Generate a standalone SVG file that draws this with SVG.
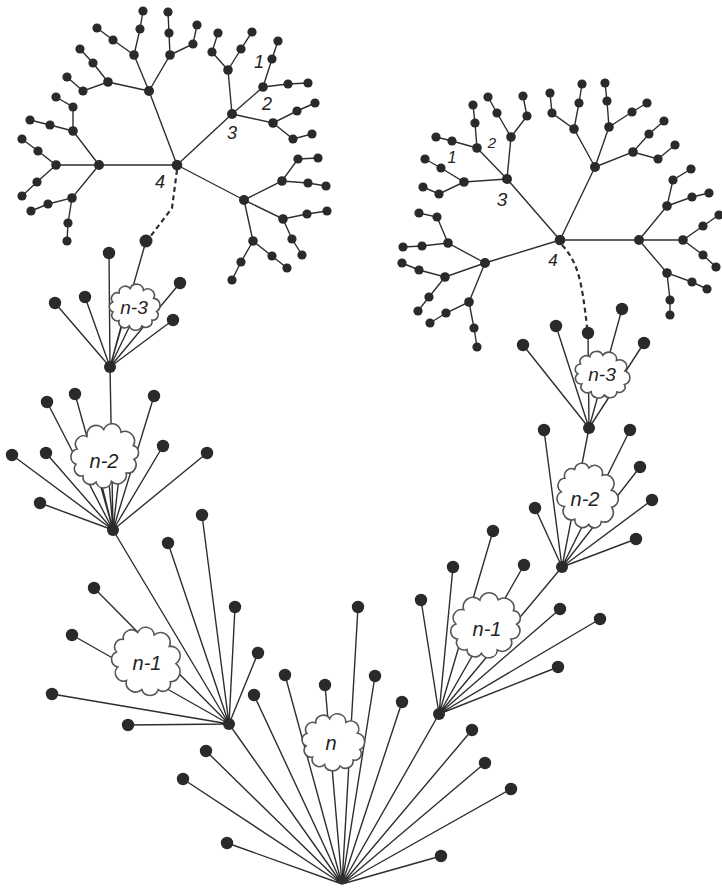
<svg xmlns="http://www.w3.org/2000/svg" xmlns:xlink="http://www.w3.org/1999/xlink" width="722" height="890" viewBox="0 0 722 890">
<style>
.e{stroke:#2e2e2e;stroke-width:1.4;fill:none;stroke-linecap:round}
.d{stroke:#2e2e2e;stroke-width:2.2;fill:none;stroke-dasharray:5 3.5}
circle{fill:#2a2a2a}
.cl{fill:#fff;stroke:#555;stroke-width:1.6}
.lab{font-family:"Liberation Sans",Arial,sans-serif;font-style:italic;fill:#222;text-anchor:middle}
</style>
<defs>
<path id="cloud" vector-effect="non-scaling-stroke" d="M44 0 A10.5 10.5 0 0 1 38.1 19 A12 12 0 0 1 20.6 33.6 A13 13 0 0 1 -3.8 37.8 A11.5 11.5 0 0 1 -25.2 31.1 A11 11 0 0 1 -39.9 16.1 A10.5 10.5 0 0 1 -43.8 -3.3 A11.5 11.5 0 0 1 -34.7 -23.4 A12 12 0 0 1 -15 -35.7 A13.5 13.5 0 0 1 11.4 -36.7 A13 13 0 0 1 33.7 -24.4 A14 14 0 0 1 44 0 Z"/>
</defs>
<rect width="722" height="890" fill="#fff"/>
<g id="connectors">
<path class="e" d="M177 165 L149 91 M177 165 L232 114 M177 165 L99 165 M177 165 L244 200"/>
<path class="e" d="M149 91 L134 55 L140 29 L143 11 M134 55 L113 40 L97 28 M149 91 L170 55 L169 33 L168 12 M170 55 L193 44 L197 25 M149 91 L108 82 L93 63 L80 49 M108 82 L83 91 L67 77"/>
<path class="e" d="M232 114 L228 70 L212 52 L218 33 M228 70 L241 49 L252 32 M232 114 L263 87 L272 59 L278 41 M263 87 L288 84 L308 83 M232 114 L273 123 L297 111 L315 103 M273 123 L293 139 L312 134"/>
<path class="e" d="M99 165 L73 131 L73 107 L56 97 M73 131 L50 125 L30 120 M99 165 L56 165 L38 151 L22 139 M56 165 L37 182 L22 196 M99 165 L72 198 L48 204 L31 211 M72 198 L68 223 L67 241"/>
<path class="e" d="M244 200 L282 181 L298 159 L318 158 M282 181 L308 183 L326 186 M244 200 L283 219 L307 214 L327 211 M283 219 L292 239 L302 255 M244 200 L253 241 L272 256 L287 268 M253 241 L241 262 L232 280"/>
<path class="d" d="M177 170 L172 208 L150 237"/>
<path class="e" d="M560 240 L507 179 M560 240 L595 167 M560 240 L639 240 M560 240 L485 263"/>
<path class="e" d="M507 179 L477 148 L475 123 L473 105 M477 148 L452 141 L436 137 M507 179 L511 137 L497 113 L488 97 M511 137 L527 116 L523 96 M507 179 L464 182 L441 168 L425 159 M464 182 L439 194 L423 187"/>
<path class="e" d="M595 167 L574 129 L552 113 L550 93 M574 129 L579 103 L582 84 M595 167 L609 127 L607 101 L605 83 M609 127 L632 112 L647 103 M595 167 L633 152 L649 134 L664 121 M633 152 L658 159 L675 145"/>
<path class="e" d="M639 240 L667 206 L673 180 L691 169 M667 206 L692 197 L709 193 M639 240 L683 240 L703 226 L719 215 M683 240 L703 255 L716 267 M639 240 L667 273 L692 282 L707 289 M667 273 L670 300 L670 315"/>
<path class="e" d="M485 263 L448 243 L437 217 L419 213 M448 243 L422 246 L403 247 M485 263 L445 277 L419 270 L402 263 M445 277 L429 297 L418 311 M485 263 L469 302 L446 313 L430 323 M469 302 L474 328 L477 347"/>
<path class="d" d="M562 245 C578 262 582 282 587 327"/>
<path class="e" d="M110 367 L146 241 M110 367 L109 253 M110 367 L55 303 M110 367 L85 297 M110 367 L180 283 M110 367 L173 320 M110 367 L125 312 M110 367 L135 315"/>
<path class="e" d="M110 367 L113 530 M113 530 L47 402 M113 530 L75 394 M113 530 L154 396 M113 530 L12 455 M113 530 L46 453 M113 530 L163 446 M113 530 L207 453 M113 530 L40 503 M113 530 L98 470 M113 530 L108 470 M113 530 L120 468"/>
<path class="e" d="M113 530 L229 724 M229 724 L168 543 M229 724 L202 515 M229 724 L235 607 M229 724 L258 653 M229 724 L94 588 M229 724 L72 635 M229 724 L52 694 M229 724 L128 725"/>
<path class="e" d="M229 724 L342 884 M439 714 L342 884 M342 884 L206 751 M342 884 L183 779 M342 884 L227 843 M342 884 L254 695 M342 884 L285 675 M342 884 L325 685 M342 884 L358 607 M342 884 L375 676 M342 884 L402 702 M342 884 L472 730 M342 884 L485 763 M342 884 L511 789 M342 884 L441 856"/>
<path class="e" d="M439 714 L562 567 M439 714 L421 600 M439 714 L453 567 M439 714 L493 531 M439 714 L524 565 M439 714 L560 609 M439 714 L600 619 M439 714 L558 667"/>
<path class="e" d="M562 567 L589 428 M562 567 L535 508 M562 567 L544 430 M562 567 L630 430 M562 567 L640 467 M562 567 L652 500 M562 567 L636 539"/>
<path class="e" d="M589 428 L523 345 M589 428 L556 326 M589 428 L588 333 M589 428 L622 309 M589 428 L644 343"/>
</g>
<g id="cloud-l-n3"><use href="#cloud" class="cl" transform="translate(134.5 307.5) scale(0.51 0.5) rotate(10)"/><text class="lab" x="134" y="314" font-size="19">n-3</text></g>
<g id="cloud-l-n2"><use href="#cloud" class="cl" transform="translate(105 456) scale(0.685 0.69) rotate(-20)"/><text class="lab" x="104" y="468" font-size="20">n-2</text></g>
<g id="cloud-l-n1"><use href="#cloud" class="cl" transform="translate(146 661.5) scale(0.72 0.72) rotate(40)"/><text class="lab" x="147" y="670" font-size="20">n-1</text></g>
<g id="cloud-n"><use href="#cloud" class="cl" transform="translate(333 742.5) scale(0.63 0.62) rotate(15)"/><text class="lab" x="331" y="750" font-size="20">n</text></g>
<g id="cloud-r-n1"><use href="#cloud" class="cl" transform="translate(486 626) scale(0.72 0.69) rotate(-30)"/><text class="lab" x="487" y="636" font-size="20">n-1</text></g>
<g id="cloud-r-n2"><use href="#cloud" class="cl" transform="translate(587 496) scale(0.65 0.67) rotate(60)"/><text class="lab" x="585" y="506" font-size="20">n-2</text></g>
<g id="cloud-r-n3"><use href="#cloud" class="cl" transform="translate(602 375) scale(0.56 0.51) rotate(25)"/><text class="lab" x="602" y="381" font-size="19">n-3</text></g>
<g id="labels">
<text class="lab" x="259" y="68" font-size="18">1</text>
<text class="lab" x="267" y="110" font-size="18">2</text>
<text class="lab" x="232" y="139" font-size="18">3</text>
<text class="lab" x="160" y="188" font-size="18">4</text>
<text class="lab" x="452" y="163" font-size="16">1</text>
<text class="lab" x="492" y="148" font-size="15">2</text>
<text class="lab" x="502" y="206" font-size="19">3</text>
<text class="lab" x="553" y="266" font-size="17">4</text>
</g>
<g id="lt-4"><circle cx="177" cy="165" r="5.3"/></g>
<g id="lt-a"><circle cx="149" cy="91" r="5"/></g>
<g id="lt-a1"><circle cx="134" cy="55" r="4.8"/></g>
<g id="lt-a1a"><circle cx="140" cy="29" r="4.6"/></g>
<g id="lt-a1b"><circle cx="143" cy="11" r="4.6"/></g>
<g id="lt-a1c"><circle cx="113" cy="40" r="4.6"/></g>
<g id="lt-a1d"><circle cx="97" cy="28" r="4.6"/></g>
<g id="lt-a2"><circle cx="170" cy="55" r="4.8"/></g>
<g id="lt-a2a"><circle cx="169" cy="33" r="4.6"/></g>
<g id="lt-a2b"><circle cx="168" cy="12" r="4.6"/></g>
<g id="lt-a2c"><circle cx="193" cy="44" r="4.6"/></g>
<g id="lt-a2d"><circle cx="197" cy="25" r="4.6"/></g>
<g id="lt-a3"><circle cx="108" cy="82" r="4.8"/></g>
<g id="lt-a3a"><circle cx="93" cy="63" r="4.6"/></g>
<g id="lt-a3b"><circle cx="80" cy="49" r="4.6"/></g>
<g id="lt-a3c"><circle cx="83" cy="91" r="4.6"/></g>
<g id="lt-a3d"><circle cx="67" cy="77" r="4.6"/></g>
<g id="lt-3"><circle cx="232" cy="114" r="5"/></g>
<g id="lt-b1"><circle cx="228" cy="70" r="4.8"/></g>
<g id="lt-b1a"><circle cx="212" cy="52" r="4.6"/></g>
<g id="lt-b1b"><circle cx="218" cy="33" r="4.6"/></g>
<g id="lt-b1c"><circle cx="241" cy="49" r="4.6"/></g>
<g id="lt-b1d"><circle cx="252" cy="32" r="4.6"/></g>
<g id="lt-2"><circle cx="263" cy="87" r="4.8"/></g>
<g id="lt-1"><circle cx="272" cy="59" r="4.6"/></g>
<g id="lt-b2b"><circle cx="278" cy="41" r="4.6"/></g>
<g id="lt-b2c"><circle cx="288" cy="84" r="4.6"/></g>
<g id="lt-b2d"><circle cx="308" cy="83" r="4.6"/></g>
<g id="lt-b3"><circle cx="273" cy="123" r="4.8"/></g>
<g id="lt-b3a"><circle cx="297" cy="111" r="4.6"/></g>
<g id="lt-b3b"><circle cx="315" cy="103" r="4.6"/></g>
<g id="lt-b3c"><circle cx="293" cy="139" r="4.6"/></g>
<g id="lt-b3d"><circle cx="312" cy="134" r="4.6"/></g>
<g id="lt-c"><circle cx="99" cy="165" r="5"/></g>
<g id="lt-c1"><circle cx="73" cy="131" r="4.8"/></g>
<g id="lt-c1a"><circle cx="73" cy="107" r="4.6"/></g>
<g id="lt-c1b"><circle cx="56" cy="97" r="4.6"/></g>
<g id="lt-c1c"><circle cx="50" cy="125" r="4.6"/></g>
<g id="lt-c1d"><circle cx="30" cy="120" r="4.6"/></g>
<g id="lt-c2"><circle cx="56" cy="165" r="4.8"/></g>
<g id="lt-c2a"><circle cx="38" cy="151" r="4.6"/></g>
<g id="lt-c2b"><circle cx="22" cy="139" r="4.6"/></g>
<g id="lt-c2c"><circle cx="37" cy="182" r="4.6"/></g>
<g id="lt-c2d"><circle cx="22" cy="196" r="4.6"/></g>
<g id="lt-c3"><circle cx="72" cy="198" r="4.8"/></g>
<g id="lt-c3a"><circle cx="48" cy="204" r="4.6"/></g>
<g id="lt-c3b"><circle cx="31" cy="211" r="4.6"/></g>
<g id="lt-c3c"><circle cx="68" cy="223" r="4.6"/></g>
<g id="lt-c3d"><circle cx="67" cy="241" r="4.6"/></g>
<g id="lt-d"><circle cx="244" cy="200" r="5"/></g>
<g id="lt-d1"><circle cx="282" cy="181" r="4.8"/></g>
<g id="lt-d1a"><circle cx="298" cy="159" r="4.6"/></g>
<g id="lt-d1b"><circle cx="318" cy="158" r="4.6"/></g>
<g id="lt-d1c"><circle cx="308" cy="183" r="4.6"/></g>
<g id="lt-d1d"><circle cx="326" cy="186" r="4.6"/></g>
<g id="lt-d2"><circle cx="283" cy="219" r="4.8"/></g>
<g id="lt-d2a"><circle cx="307" cy="214" r="4.6"/></g>
<g id="lt-d2b"><circle cx="327" cy="211" r="4.6"/></g>
<g id="lt-d2c"><circle cx="292" cy="239" r="4.6"/></g>
<g id="lt-d2d"><circle cx="302" cy="255" r="4.6"/></g>
<g id="lt-d3"><circle cx="253" cy="241" r="4.8"/></g>
<g id="lt-d3a"><circle cx="272" cy="256" r="4.6"/></g>
<g id="lt-d3b"><circle cx="287" cy="268" r="4.6"/></g>
<g id="lt-d3c"><circle cx="241" cy="262" r="4.6"/></g>
<g id="lt-d3d"><circle cx="232" cy="280" r="4.6"/></g>
<g id="rt-4"><circle cx="560" cy="240" r="5.3"/></g>
<g id="rt-3"><circle cx="507" cy="179" r="5"/></g>
<g id="rt-2"><circle cx="477" cy="148" r="4.8"/></g>
<g id="rt-a1a"><circle cx="475" cy="123" r="4.6"/></g>
<g id="rt-a1b"><circle cx="473" cy="105" r="4.6"/></g>
<g id="rt-1"><circle cx="452" cy="141" r="4.6"/></g>
<g id="rt-a1d"><circle cx="436" cy="137" r="4.6"/></g>
<g id="rt-a2"><circle cx="511" cy="137" r="4.8"/></g>
<g id="rt-a2a"><circle cx="497" cy="113" r="4.6"/></g>
<g id="rt-a2b"><circle cx="488" cy="97" r="4.6"/></g>
<g id="rt-a2c"><circle cx="527" cy="116" r="4.6"/></g>
<g id="rt-a2d"><circle cx="523" cy="96" r="4.6"/></g>
<g id="rt-a3"><circle cx="464" cy="182" r="4.8"/></g>
<g id="rt-a3a"><circle cx="441" cy="168" r="4.6"/></g>
<g id="rt-a3b"><circle cx="425" cy="159" r="4.6"/></g>
<g id="rt-a3c"><circle cx="439" cy="194" r="4.6"/></g>
<g id="rt-a3d"><circle cx="423" cy="187" r="4.6"/></g>
<g id="rt-b"><circle cx="595" cy="167" r="5"/></g>
<g id="rt-b1"><circle cx="574" cy="129" r="4.8"/></g>
<g id="rt-b1a"><circle cx="552" cy="113" r="4.6"/></g>
<g id="rt-b1b"><circle cx="550" cy="93" r="4.6"/></g>
<g id="rt-b1c"><circle cx="579" cy="103" r="4.6"/></g>
<g id="rt-b1d"><circle cx="582" cy="84" r="4.6"/></g>
<g id="rt-b2"><circle cx="609" cy="127" r="4.8"/></g>
<g id="rt-b2a"><circle cx="607" cy="101" r="4.6"/></g>
<g id="rt-b2b"><circle cx="605" cy="83" r="4.6"/></g>
<g id="rt-b2c"><circle cx="632" cy="112" r="4.6"/></g>
<g id="rt-b2d"><circle cx="647" cy="103" r="4.6"/></g>
<g id="rt-b3"><circle cx="633" cy="152" r="4.8"/></g>
<g id="rt-b3a"><circle cx="649" cy="134" r="4.6"/></g>
<g id="rt-b3b"><circle cx="664" cy="121" r="4.6"/></g>
<g id="rt-b3c"><circle cx="658" cy="159" r="4.6"/></g>
<g id="rt-b3d"><circle cx="675" cy="145" r="4.6"/></g>
<g id="rt-c"><circle cx="639" cy="240" r="5"/></g>
<g id="rt-c1"><circle cx="667" cy="206" r="4.8"/></g>
<g id="rt-c1a"><circle cx="673" cy="180" r="4.6"/></g>
<g id="rt-c1b"><circle cx="691" cy="169" r="4.6"/></g>
<g id="rt-c1c"><circle cx="692" cy="197" r="4.6"/></g>
<g id="rt-c1d"><circle cx="709" cy="193" r="4.6"/></g>
<g id="rt-c2"><circle cx="683" cy="240" r="4.8"/></g>
<g id="rt-c2a"><circle cx="703" cy="226" r="4.6"/></g>
<g id="rt-c2b"><circle cx="719" cy="215" r="4.6"/></g>
<g id="rt-c2c"><circle cx="703" cy="255" r="4.6"/></g>
<g id="rt-c2d"><circle cx="716" cy="267" r="4.6"/></g>
<g id="rt-c3"><circle cx="667" cy="273" r="4.8"/></g>
<g id="rt-c3a"><circle cx="692" cy="282" r="4.6"/></g>
<g id="rt-c3b"><circle cx="707" cy="289" r="4.6"/></g>
<g id="rt-c3c"><circle cx="670" cy="300" r="4.6"/></g>
<g id="rt-c3d"><circle cx="670" cy="315" r="4.6"/></g>
<g id="rt-d"><circle cx="485" cy="263" r="5"/></g>
<g id="rt-d1"><circle cx="448" cy="243" r="4.8"/></g>
<g id="rt-d1a"><circle cx="437" cy="217" r="4.6"/></g>
<g id="rt-d1b"><circle cx="419" cy="213" r="4.6"/></g>
<g id="rt-d1c"><circle cx="422" cy="246" r="4.6"/></g>
<g id="rt-d1d"><circle cx="403" cy="247" r="4.6"/></g>
<g id="rt-d2"><circle cx="445" cy="277" r="4.8"/></g>
<g id="rt-d2a"><circle cx="419" cy="270" r="4.6"/></g>
<g id="rt-d2b"><circle cx="402" cy="263" r="4.6"/></g>
<g id="rt-d2c"><circle cx="429" cy="297" r="4.6"/></g>
<g id="rt-d2d"><circle cx="418" cy="311" r="4.6"/></g>
<g id="rt-d3"><circle cx="469" cy="302" r="4.8"/></g>
<g id="rt-d3a"><circle cx="446" cy="313" r="4.6"/></g>
<g id="rt-d3b"><circle cx="430" cy="323" r="4.6"/></g>
<g id="rt-d3c"><circle cx="474" cy="328" r="4.6"/></g>
<g id="rt-d3d"><circle cx="477" cy="347" r="4.6"/></g>
<g id="lh3"><circle cx="110" cy="367" r="6"/></g>
<g id="l3-1"><circle cx="146" cy="241" r="6.5"/></g>
<g id="l3-2"><circle cx="109" cy="253" r="6.2"/></g>
<g id="l3-3"><circle cx="55" cy="303" r="6.2"/></g>
<g id="l3-4"><circle cx="85" cy="297" r="6.2"/></g>
<g id="l3-5"><circle cx="180" cy="283" r="6.2"/></g>
<g id="l3-6"><circle cx="173" cy="320" r="6.2"/></g>
<g id="lh2"><circle cx="113" cy="530" r="6"/></g>
<g id="l2-1"><circle cx="47" cy="402" r="6.2"/></g>
<g id="l2-2"><circle cx="75" cy="394" r="6.2"/></g>
<g id="l2-3"><circle cx="154" cy="396" r="6.2"/></g>
<g id="l2-4"><circle cx="12" cy="455" r="6.2"/></g>
<g id="l2-5"><circle cx="46" cy="453" r="6.2"/></g>
<g id="l2-6"><circle cx="163" cy="446" r="6.2"/></g>
<g id="l2-7"><circle cx="207" cy="453" r="6.2"/></g>
<g id="l2-8"><circle cx="40" cy="503" r="6.2"/></g>
<g id="lh1"><circle cx="229" cy="724" r="6"/></g>
<g id="l1-1"><circle cx="168" cy="543" r="6.2"/></g>
<g id="l1-2"><circle cx="202" cy="515" r="6.2"/></g>
<g id="l1-3"><circle cx="235" cy="607" r="6.2"/></g>
<g id="l1-4"><circle cx="258" cy="653" r="6.2"/></g>
<g id="l1-5"><circle cx="94" cy="588" r="6.2"/></g>
<g id="l1-6"><circle cx="72" cy="635" r="6.2"/></g>
<g id="l1-7"><circle cx="52" cy="694" r="6.2"/></g>
<g id="l1-8"><circle cx="128" cy="725" r="6.2"/></g>
<g id="n-1"><circle cx="206" cy="751" r="6.2"/></g>
<g id="n-2"><circle cx="183" cy="779" r="6.2"/></g>
<g id="n-3"><circle cx="227" cy="843" r="6.2"/></g>
<g id="n-4"><circle cx="254" cy="695" r="6.2"/></g>
<g id="n-5"><circle cx="285" cy="675" r="6.2"/></g>
<g id="n-6"><circle cx="325" cy="685" r="6.2"/></g>
<g id="n-7"><circle cx="358" cy="607" r="6.2"/></g>
<g id="n-8"><circle cx="375" cy="676" r="6.2"/></g>
<g id="n-9"><circle cx="402" cy="702" r="6.2"/></g>
<g id="n-10"><circle cx="472" cy="730" r="6.2"/></g>
<g id="n-11"><circle cx="485" cy="763" r="6.2"/></g>
<g id="n-12"><circle cx="511" cy="789" r="6.2"/></g>
<g id="n-13"><circle cx="441" cy="856" r="6.2"/></g>
<g id="rh1"><circle cx="439" cy="714" r="6"/></g>
<g id="r1-1"><circle cx="421" cy="600" r="6.2"/></g>
<g id="r1-2"><circle cx="453" cy="567" r="6.2"/></g>
<g id="r1-3"><circle cx="493" cy="531" r="6.2"/></g>
<g id="r1-4"><circle cx="524" cy="565" r="6.2"/></g>
<g id="r1-5"><circle cx="560" cy="609" r="6.2"/></g>
<g id="r1-6"><circle cx="600" cy="619" r="6.2"/></g>
<g id="r1-7"><circle cx="558" cy="667" r="6.2"/></g>
<g id="rh2"><circle cx="562" cy="567" r="6"/></g>
<g id="r2-1"><circle cx="535" cy="508" r="6.2"/></g>
<g id="r2-2"><circle cx="544" cy="430" r="6.2"/></g>
<g id="r2-3"><circle cx="630" cy="430" r="6.2"/></g>
<g id="r2-4"><circle cx="640" cy="467" r="6.2"/></g>
<g id="r2-5"><circle cx="652" cy="500" r="6.2"/></g>
<g id="r2-6"><circle cx="636" cy="539" r="6.2"/></g>
<g id="rh3"><circle cx="589" cy="428" r="6"/></g>
<g id="r3-1"><circle cx="523" cy="345" r="6.2"/></g>
<g id="r3-2"><circle cx="556" cy="326" r="6.2"/></g>
<g id="r3-3"><circle cx="588" cy="333" r="6.2"/></g>
<g id="r3-4"><circle cx="622" cy="309" r="6.2"/></g>
<g id="r3-5"><circle cx="644" cy="343" r="6.2"/></g>
</svg>
